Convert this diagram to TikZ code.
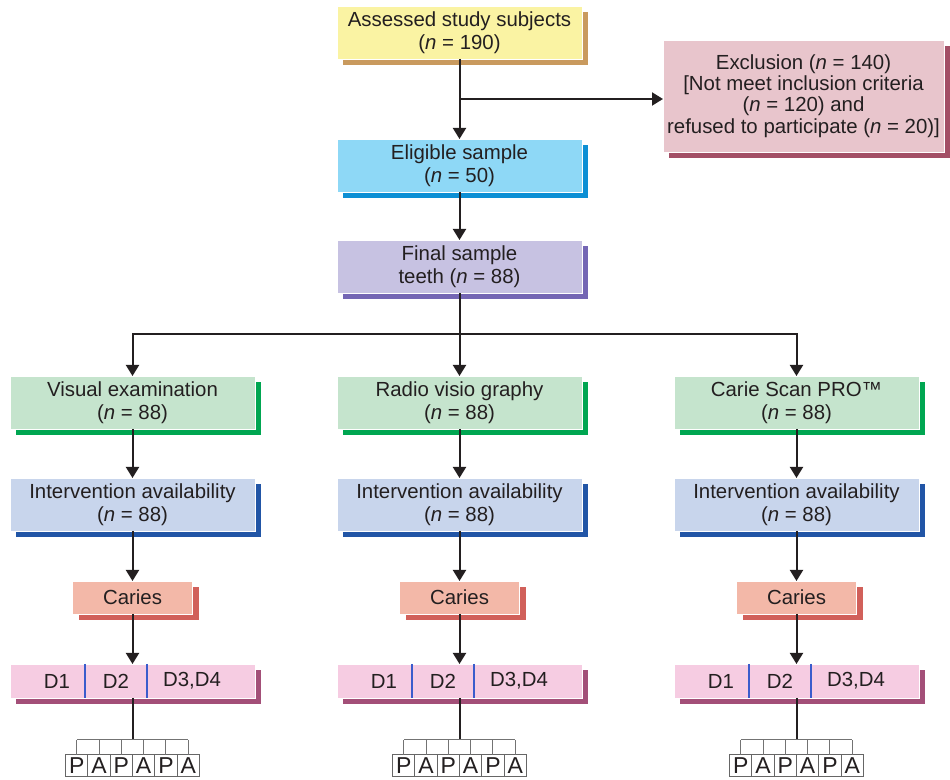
\documentclass[tikz,border=0pt]{standalone}
\usepackage{fontspec}
\setmainfont{Liberation Sans}
\usetikzlibrary{arrows.meta, positioning, shadows, calc}
\definecolor{txt}{HTML}{231F20}
\definecolor{yelfill}{HTML}{FAF3A3}
\definecolor{yelshade}{HTML}{C99A5E}
\definecolor{exfill}{HTML}{E8C5CC}
\definecolor{exshade}{HTML}{A34F66}
\definecolor{elfill}{HTML}{8ED8F6}
\definecolor{elshade}{HTML}{0C8FD4}
\definecolor{fifill}{HTML}{C7C2E2}
\definecolor{fishade}{HTML}{7466B4}
\definecolor{mefill}{HTML}{C5E4CD}
\definecolor{meshade}{HTML}{00A651}
\definecolor{infill}{HTML}{C8D5EC}
\definecolor{inshade}{HTML}{2155A6}
\definecolor{cafill}{HTML}{F3B8A8}
\definecolor{cashade}{HTML}{D1605A}
\definecolor{dfill}{HTML}{F6CCE2}
\definecolor{dshade}{HTML}{A34F78}
\definecolor{dline}{HTML}{3A5CCC}
\newcommand{\ncnt}{\textit{n}}

\begin{document}
\begin{tikzpicture}[
    box/.style 2 args={rectangle, fill=#1, draw=white, line width=0.4pt,
                  drop shadow={shadow xshift=3pt, shadow yshift=-3pt,
                               fill=#2, opacity=1},
                  minimum width=122.5pt, minimum height=26.5pt,
                  inner sep=0pt, outer sep=0pt, align=center, text=txt},
    small/.style={minimum width=60pt, minimum height=16.5pt},
    grade/.style={box={dfill}{dshade}, minimum height=17pt},
    cell/.style={rectangle, draw=black!60, line width=0.5pt, fill=white,
                 minimum width=11.15pt, minimum height=11pt, inner sep=0pt,
                 outer sep=0pt, font=\fontsize{11.5}{12}\selectfont, text=txt},
    link/.style={-{Triangle[length=5.5pt, width=6.5pt]}, line width=1pt, draw=txt},
    stem/.style={line width=1pt, draw=txt},
    fork/.style={line width=0.5pt, draw=black!55},
    every node/.style={font=\fontsize{10.2}{11.7}\selectfont},
]
\useasboundingbox (0,0) rectangle (475pt,-390pt);

% Screening
\node[box={yelfill}{yelshade}] (assess) at (229.75pt,-16.25pt)
      {Assessed study subjects\\(\ncnt{} = 190)};
\node[box={exfill}{exshade}, minimum width=140.5pt, minimum height=56pt,
      font=\fontsize{10.2}{10.6}\selectfont] (excl) at (401.75pt,-48pt)
      {Exclusion (\ncnt{} = 140)\\{}[Not meet inclusion criteria\\(\ncnt{} = 120) and\\refused to participate (\ncnt{} = 20)]};
\node[box={elfill}{elshade}, below=40pt of assess] (elig)  {Eligible sample\\(\ncnt{} = 50)};
\node[box={fifill}{fishade}, below=24pt of elig]   (final) {Final sample\\teeth (\ncnt{} = 88)};

% Three methods
\node[box={mefill}{meshade}, below=41.5pt of final] (rad) {Radio visio graphy\\(\ncnt{} = 88)};
\node[box={mefill}{meshade}, left=41pt of rad]      (vis) {Visual examination\\(\ncnt{} = 88)};
\node[box={mefill}{meshade}, right=46pt of rad]     (csp) {Carie Scan PRO™\\(\ncnt{} = 88)};

\node[box={infill}{inshade}, below=24.5pt of vis] (intvis) {Intervention availability\\(\ncnt{} = 88)};
\node[box={infill}{inshade}, below=24.5pt of rad] (intrad) {Intervention availability\\(\ncnt{} = 88)};
\node[box={infill}{inshade}, below=24.5pt of csp] (intcsp) {Intervention availability\\(\ncnt{} = 88)};

\node[box={cafill}{cashade}, small, below=25pt of intvis] (carvis) {Caries};
\node[box={cafill}{cashade}, small, below=25pt of intrad] (carrad) {Caries};
\node[box={cafill}{cashade}, small, below=25pt of intcsp] (carcsp) {Caries};

\node[grade, below=25pt of carvis] (dvis) {};
\node[grade, below=25pt of carrad] (drad) {};
\node[grade, below=25pt of carcsp] (dcsp) {};

% Connectors
\coordinate (exsplit) at ($(assess.south)!0.5!(elig.north)$);
\draw[link] (assess) -- (elig);
\draw[link] (exsplit) -- (exsplit -| excl.west);
\draw[link] (elig) -- (final);

\coordinate (split) at ($(final.south)!0.5!(rad.north)$);
\draw[stem] (final) -- (split);
\draw[link] (split) -| (vis);
\draw[link] (split) -- (rad);
\draw[link] (split) -| (csp);

% Grades and P/A forks
\foreach \col in {vis,rad,csp} {
  \draw[link] (\col) -- (int\col);
  \draw[link] (int\col) -- (car\col);
  \draw[link] (car\col) -- (d\col);
  \draw[dline, line width=0.6pt] ([xshift=37.5pt]d\col.north west) -- ([xshift=37.5pt]d\col.south west);
  \draw[dline, line width=0.6pt] ([xshift=68.5pt]d\col.north west) -- ([xshift=68.5pt]d\col.south west);
  \node[text=txt] (done\col)   at ([xshift=23.5pt]d\col.west) {D1};
  \node[text=txt] (dtwo\col)   at ([xshift=53pt]d\col.west)   {D2};
  \node[text=txt] (dthree\col) at ([xshift=91pt]d\col.west)   {D3,D4};

  \coordinate[below=21pt of d\col] (fork\col);
  \draw[stem] (d\col) -- (fork\col);
  \foreach \i/\t in {1/P,2/A,3/P,4/A,5/P,6/A} {
    \node[cell] (pa\col\i) at ([xshift={(\i-3.5)*11.15pt}, yshift=-13pt]fork\col) {\t};
    \draw[fork] (pa\col\i.north) -- (pa\col\i.north |- fork\col);
  }
  \draw[fork] (pa\col1.north |- fork\col) -- (pa\col6.north |- fork\col);
}

\end{tikzpicture}
\end{document}
